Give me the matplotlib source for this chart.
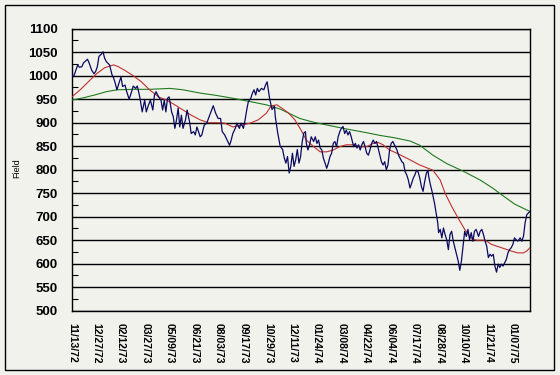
import matplotlib
matplotlib.use("Agg")
import matplotlib.pyplot as plt
from matplotlib.patches import Rectangle
from matplotlib.ticker import MultipleLocator

# ---- data (trading-day index, value) ----
date_labels = ['11/13/72', '12/27/72', '02/12/73', '03/27/73', '05/09/73', '06/21/73',
               '08/03/73', '09/17/73', '10/29/73', '12/11/73', '01/24/74', '03/08/74',
               '04/22/74', '06/04/74', '07/17/74', '08/28/74', '10/10/74', '11/21/74',
               '01/07/75']
tick_days = [0, 30, 60, 90, 120, 150, 180, 210, 240, 270, 300, 330, 360, 390, 420, 450,
             480, 510, 540]

index_days = [0, 2, 7, 9, 12, 14, 19, 21, 24, 27, 29, 31, 33, 36, 38, 40, 42, 46, 49, 51,
              53, 55, 58, 60, 62, 65, 67, 70, 73, 75, 78, 80, 83, 86, 89, 91, 93, 96, 99, 101,
              103, 106, 109, 111, 113, 115, 117, 119, 122, 124, 126, 128, 130, 132, 134, 136,
              139, 141, 144, 146, 149, 151, 153, 155, 157, 159, 162, 165, 168, 171, 173, 176,
              179, 182, 184, 187, 190, 193, 195, 197, 200, 202, 205, 207, 210, 212, 214, 216,
              219, 221, 223, 225, 227, 229, 232, 235, 237, 239, 242, 245, 248, 249, 252, 255,
              258, 260, 262, 264, 266, 268, 270, 272, 274, 276, 278, 280, 282, 284, 286, 287,
              289, 291, 293, 296, 298, 300, 302, 304, 306, 308, 310, 312, 314, 316, 318, 320,
              322, 324, 326, 328, 330, 332, 334, 336, 338, 340, 342, 345, 347, 349, 351, 353,
              355, 357, 359, 361, 363, 365, 367, 369, 371, 373, 375, 377, 379, 381, 383, 385,
              387, 389, 391, 393, 396, 398, 400, 402, 404, 406, 408, 410, 412, 414, 416, 418,
              420, 422, 424, 426, 428, 430, 432, 434, 436, 437, 439, 441, 444, 446, 448, 449,
              451, 453, 455, 457, 459, 461, 463, 465, 467, 469, 471, 473, 475, 477, 479, 481,
              483, 485, 487, 489, 491, 493, 495, 498, 500, 502, 504, 506, 508, 510, 512, 514,
              516, 518, 520, 522, 524, 526, 528, 530, 532, 534, 536, 538, 540, 542, 544, 546,
              549, 551, 553, 555, 557, 559, 561]
index_values = [1002, 998, 1023, 1018, 1019, 1027, 1035, 1027, 1012, 1004, 1009, 1019, 1041,
                1046, 1051, 1037, 1030, 1023, 1002, 995, 984, 970, 987, 997, 977, 980, 966,
                950, 966, 978, 973, 978, 955, 923, 948, 923, 934, 948, 927, 959, 966, 955,
                948, 927, 948, 923, 952, 955, 923, 913, 888, 906, 931, 891, 916, 888, 906,
                927, 902, 877, 881, 874, 891, 881, 870, 874, 895, 899, 913, 927, 936, 920,
                909, 909, 881, 874, 863, 852, 863, 877, 888, 899, 888, 899, 888, 906, 927,
                945, 952, 963, 970, 959, 973, 966, 973, 970, 980, 987, 952, 928, 935, 913,
                878, 850, 843, 825, 814, 828, 793, 807, 835, 807, 821, 843, 814, 828, 860,
                878, 881, 856, 842, 853, 870, 860, 870, 856, 863, 846, 842, 824, 814, 803,
                814, 828, 835, 856, 860, 849, 870, 881, 888, 892, 877, 884, 874, 881, 870,
                849, 856, 846, 853, 842, 853, 860, 849, 835, 831, 842, 856, 863, 856, 860,
                846, 831, 817, 810, 817, 800, 810, 842, 856, 860, 849, 842, 831, 824, 817,
                814, 796, 789, 778, 761, 771, 782, 789, 799, 795, 782, 764, 754, 775, 792,
                799, 785, 768, 754, 729, 708, 687, 666, 673, 655, 676, 662, 651, 630, 662,
                669, 648, 634, 620, 606, 586, 606, 637, 669, 658, 673, 651, 666, 648, 669,
                673, 658, 669, 673, 662, 648, 637, 613, 620, 616, 620, 595, 582, 599, 592,
                599, 595, 602, 609, 623, 630, 634, 641, 655, 651, 648, 655, 648, 658, 687,
                704, 708, 711]

short_avg_days = [0, 10, 20, 30, 40, 51, 57, 65, 75, 85, 95, 106, 116, 126, 136, 146, 157,
                  167, 177, 187, 197, 208, 218, 228, 238, 244, 251, 257, 265, 273, 281, 287,
                  296, 304, 312, 320, 328, 336, 345, 353, 361, 369, 375, 381, 389, 398, 406,
                  414, 426, 442, 451, 457, 465, 473, 481, 489, 495, 506, 514, 526, 538, 546,
                  553, 557, 561]
short_avg_values = [955, 970, 987, 1004, 1017, 1023, 1019, 1011, 1000, 987, 970, 955, 948,
                    938, 927, 916, 906, 900, 900, 899, 891, 895, 899, 906, 920, 936, 938,
                    931, 921, 906, 883, 863, 849, 838, 838, 842, 849, 853, 853, 849, 849,
                    856, 858, 853, 842, 835, 828, 821, 810, 799, 778, 750, 722, 697, 673,
                    655, 650, 650, 641, 634, 627, 623, 623, 627, 634]

long_avg_days = [0, 14, 30, 42, 55, 75, 95, 120, 136, 157, 177, 197, 218, 238, 255, 261,
                 279, 296, 318, 338, 360, 377, 395, 414, 426, 442, 459, 479, 500, 516, 522,
                 542, 561]
long_avg_values = [948, 953, 960, 966, 970, 971, 971, 973, 970, 963, 958, 952, 945, 938,
                   929, 924, 909, 901, 893, 886, 879, 873, 868, 861, 852, 831, 813, 797,
                   778, 760, 752, 727, 711]

y_ticks = [500, 550, 600, 650, 700, 750, 800, 850, 900, 950, 1000, 1050, 1100]

# ---- drawing ----
bg = '#F1F2EC'
W, H = 560, 375
fig = plt.figure(figsize=(W / 100, H / 100), dpi=100, facecolor=bg)
ax = fig.add_axes([72 / W, 1 - 310.7 / H, 458 / W, 282 / H])
ax.set_facecolor(bg)

ax.plot(long_avg_days, long_avg_values, color='#1F7A1F', lw=0.8, zorder=3)
ax.plot(short_avg_days, short_avg_values, color='#C0302E', lw=0.8, zorder=3)
ax.plot(index_days, index_values, color='#0A0A60', lw=0.9, zorder=4)

ax.set_xlim(0, 561)
ax.set_ylim(500, 1100)
ax.set_yticks(y_ticks)
ax.yaxis.set_minor_locator(MultipleLocator(25))
ax.yaxis.grid(True, which='major', color='black', lw=1.0)
ax.set_axisbelow(True)
for s in ax.spines.values():
    s.set_color('black')
    s.set_linewidth(1.0)

ax.tick_params(axis='y', which='major', length=0, pad=10)
ax.tick_params(axis='y', which='minor', direction='in', length=4, width=0.8, color='black')
ax.set_xticks(tick_days)
ax.set_xticklabels(date_labels)
ax.tick_params(axis='x', which='major', length=0, pad=9)

for lab in ax.get_yticklabels():
    lab.set_fontfamily(['Liberation Sans', 'DejaVu Sans'])
    lab.set_fontweight('bold')
    lab.set_fontsize(9.5)
for lab in ax.get_xticklabels():
    lab.set_fontfamily(['Liberation Sans', 'DejaVu Sans'])
    lab.set_fontweight('bold')
    lab.set_fontsize(7.5)
    lab.set_rotation(-90)

fig.text(17 / W, 1 - 168 / H, 'Field', rotation=90, ha='center', va='center',
         fontsize=6.5, family=['Liberation Sans', 'DejaVu Sans'])

fig.patches.append(Rectangle((4.5 / W, 5 / H), 549.5 / W, 365 / H,
                             transform=fig.transFigure, fill=False,
                             edgecolor='black', lw=1.0))

fig.savefig('out.png', dpi=100, facecolor=bg)
